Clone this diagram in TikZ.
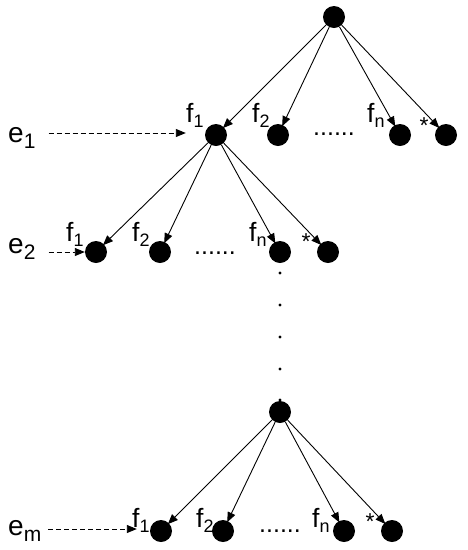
\documentclass[tikz,border=0pt]{standalone}
\usepackage{fontspec}
\setmainfont{Liberation Sans}
\usepackage{tikz}
\usetikzlibrary{arrows.meta,positioning}

\newcommand{\fsub}[1]{\raisebox{-5.5pt}{\fontsize{18}{18}\selectfont #1}}
\newcommand{\esub}[1]{\raisebox{-6pt}{\fontsize{21}{21}\selectfont #1}}

\begin{document}
\begin{tikzpicture}[x=1pt,y=-1pt,
    dot/.style={circle,fill=black,inner sep=0pt,minimum size=22pt},
    flbl/.style={font=\fontsize{26.5}{26.5}\selectfont,inner sep=0pt,anchor=base west},
    elbl/.style={font=\fontsize{28}{28}\selectfont,inner sep=0pt,anchor=base west},
    star/.style={font=\fontsize{23}{23}\selectfont,inner sep=0pt,anchor=base},
    gap/.style={font=\fontsize{25}{25}\selectfont,inner sep=0pt,anchor=base},
    edge/.style={line width=0.9pt,shorten >=-1.5pt,-{Triangle[length=10pt,width=8pt]}},
    feed/.style={line width=0.9pt,dash pattern=on 5pt off 3pt,-{Triangle[length=10pt,width=8pt]}}]
    \useasboundingbox (0,0) rectangle (468,550);

    % root and first level
    \node[dot] (r) at (334,17) {};
    \node[dot] (a1) at (216,135) {};
    \node[dot] (a2) at (278,135) {};
    \node[dot] (an) at (400,135) {};
    \node[dot] (as) at (446,135) {};
    \node[flbl] (la1) at (186,122) {f\fsub{1}};
    \node[flbl] (la2) at (252,122) {f\fsub{2}};
    \node[flbl] (lan) at (367,122) {f\fsub{n}};
    \node[star] (las) at (424,133) {*};
    \node[gap] (ga) at (334,135) {......};
    \node[elbl] (e1) at (8,142) {e\esub{1}};
    \coordinate (ta) at ([yshift=2pt]a1.west);
    \foreach \c in {a1,a2,an,as}
        \draw[edge] (r) -- (\c);
    \draw[feed,shorten <=13pt,shorten >=19pt] (e1.east |- ta) -- (ta);

    % second level
    \node[dot] (b1) at (96,252) {};
    \node[dot] (b2) at (160,252) {};
    \node[dot] (bn) at (280,252) {};
    \node[dot] (bs) at (328,252) {};
    \node[flbl] (lb1) at (66,241) {f\fsub{1}};
    \node[flbl] (lb2) at (132,241) {f\fsub{2}};
    \node[flbl] (lbn) at (249,241) {f\fsub{n}};
    \node[star] (lbs) at (306,249) {*};
    \node[gap] (gb) at (215,254) {......};
    \node[elbl] (e2) at (8,253) {e\esub{2}};
    \foreach \c in {b1,b2,bn,bs}
        \draw[edge] (a1) -- (\c);
    \draw[feed,shorten <=13pt] (e2.east |- b1) -- (b1.west);

    % vertical dots down to the last level
    \foreach \y in {273,305,337,369,400}
        \fill (280,\y) circle (1.6pt);

    % last level
    \node[dot] (p) at (280,412) {};
    \node[dot] (c1) at (161,531) {};
    \node[dot] (c2) at (223,531) {};
    \node[dot] (cn) at (344,531) {};
    \node[dot] (cs) at (392,531) {};
    \node[flbl] (lc1) at (132,527) {f\fsub{1}};
    \node[flbl] (lc2) at (196,527) {f\fsub{2}};
    \node[flbl] (lcn) at (312,527) {f\fsub{n}};
    \node[star] (lcs) at (370,529) {*};
    \node[gap] (gc) at (280,532) {......};
    \node[elbl] (em) at (8,535) {e\esub{m}};
    \coordinate (tc) at ([yshift=2pt]c1.west);
    \foreach \c in {c1,c2,cn,cs}
        \draw[edge] (p) -- (\c);
    \draw[feed,shorten <=7pt,shorten >=13pt] (em.east |- tc) -- (tc);
\end{tikzpicture}
\end{document}
